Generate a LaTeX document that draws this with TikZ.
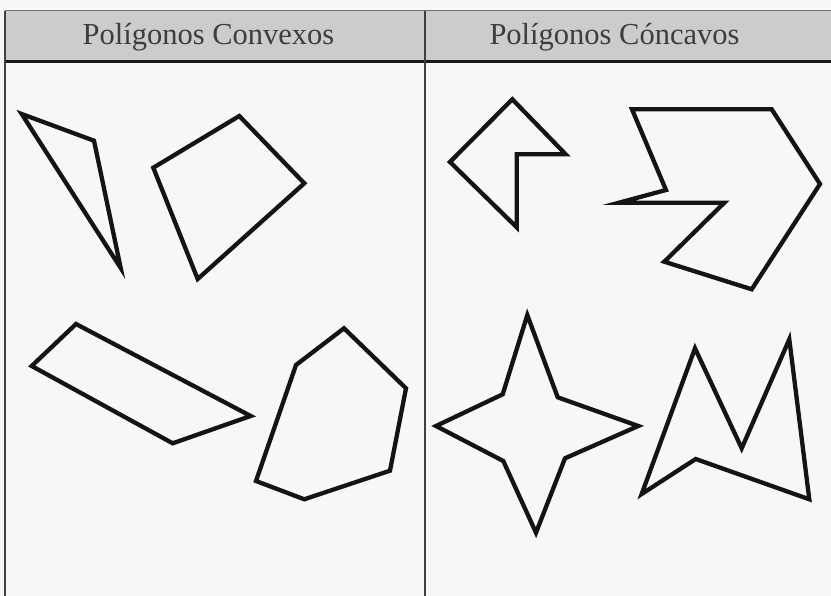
\documentclass[tikz,border=0pt]{standalone}
\usepackage{fontspec}
\setmainfont{Liberation Serif}
\begin{document}
\begin{tikzpicture}[x=1pt,y=-1pt,
  poly/.style={draw=black!92, line width=4.3pt, line join=miter},
  rule/.style={draw=black!75, line width=1.6pt},
  headtext/.style={font=\fontsize{30.5}{32}\selectfont, text=black!76, inner sep=0pt, anchor=base}]
\useasboundingbox (0,0) rectangle (831,596);
\fill[white!97!black] (0,0) rectangle (831,596);
% header
\fill[black!20] (5,11) rectangle (831,62);
\draw[draw=black!55, line width=1pt] (5,11) -- (831,11);
\draw[draw=black!90, line width=3pt] (5,62) -- (831,62);
\draw[rule] (5,11) -- (5,596);
\draw[rule] (425,11) -- (425,596);
\node[headtext] (h1) at (208.5,45) {Polígonos Convexos};
\node[headtext] (h2) at (614.5,45) {Polígonos Cóncavos};
% convex polygons
\draw[poly] (21.7,114) -- (94,140.7) -- (120.7,268) -- cycle;
\draw[poly] (153.3,167.7) -- (239.3,116) -- (304.3,183.3) -- (197.7,279) -- cycle;
\draw[poly] (31.7,366) -- (76,324) -- (250.7,416) -- (172.7,443.3) -- cycle;
\draw[poly] (296,365) -- (344,328.3) -- (406,388.3) -- (390,470.7) -- (304.3,499.3) -- (256,481) -- cycle;
% concave polygons
\draw[poly] (512.3,99.3) -- (565.7,154.3) -- (516.7,154.3) -- (516.7,227.3) -- (450,162) -- cycle;
\draw[poly] (632,109.3) -- (771.7,109.3) -- (820,184) -- (751.7,289.3) -- (664.3,261.7) -- (724.3,202.7) -- (619,202.7) -- (666,190) -- cycle;
\draw[poly] (527.3,315) -- (557.7,397.3) -- (638.3,426) -- (565,458.3) -- (536,532.7) -- (503.3,461) -- (436,426) -- (502.7,394.3) -- cycle;
\draw[poly] (695,348.3) -- (741.7,448.3) -- (789.3,339.3) -- (809.3,499.3) -- (695.7,459) -- (641.7,494) -- cycle;
\end{tikzpicture}
\end{document}
